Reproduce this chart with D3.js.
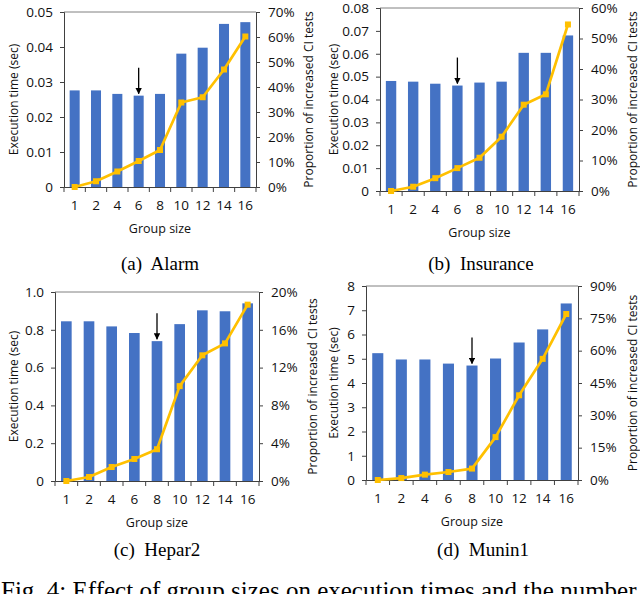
<!DOCTYPE html>
<html>
<head>
<meta charset="utf-8">
<script src="https://cdn.jsdelivr.net/npm/d3@7"></script>
<style>
  body { margin: 0; background: #fff; }
  svg text { white-space: pre; }
</style>
</head>
<body>
<svg id="chart" width="640" height="594"></svg>
<script>
// group sizes on the x axis (same for all four panels)
const groups = ['1', '2', '4', '6', '8', '10', '12', '14', '16'];

// (a) Alarm
const alarmTime = [0.0276, 0.0276, 0.0266, 0.0261, 0.0266, 0.0381, 0.0398, 0.0466, 0.0471];
const alarmPct = [0, 0.023, 0.062, 0.104, 0.148, 0.338, 0.359, 0.47, 0.602];
const alarmTimeTicks = [0, 0.01, 0.02, 0.03, 0.04, 0.05];
const alarmPctTicks = [0, 0.1, 0.2, 0.3, 0.4, 0.5, 0.6, 0.7];

// (b) Insurance
const insuranceTime = [0.0481, 0.0478, 0.0469, 0.0461, 0.0474, 0.0478, 0.0604, 0.0604, 0.068];
const insurancePct = [0, 0.014, 0.042, 0.075, 0.109, 0.178, 0.283, 0.317, 0.546];
const insuranceTimeTicks = [0, 0.01, 0.02, 0.03, 0.04, 0.05, 0.06, 0.07, 0.08];
const insurancePctTicks = [0, 0.1, 0.2, 0.3, 0.4, 0.5, 0.6];

// (c) Hepar2
const heparTime = [0.845, 0.845, 0.818, 0.783, 0.740, 0.830, 0.903, 0.898, 0.940];
const heparPct = [0, 0.0042, 0.0148, 0.0233, 0.0336, 0.1004, 0.133, 0.1456, 0.1866];
const heparTimeTicks = [0, 0.2, 0.4, 0.6, 0.8, 1];
const heparPctTicks = [0, 0.04, 0.08, 0.12, 0.16, 0.2];

// (d) Munin1
const muninTime = [5.23, 4.97, 4.97, 4.80, 4.72, 5.01, 5.67, 6.21, 7.28];
const muninPct = [0, 0.009, 0.025, 0.037, 0.053, 0.199, 0.393, 0.562, 0.77];
const muninTimeTicks = [0, 1, 2, 3, 4, 5, 6, 7, 8];
const muninPctTicks = [0, 0.15, 0.3, 0.45, 0.6, 0.75, 0.9];

const captions = ['(a)  Alarm', '(b)  Insurance', '(c)  Hepar2', '(d)  Munin1'];
const marked = ['6', '6', '8', '8']; // group pointed at by the arrow
const figCaption = 'Fig. 4: Effect of group sizes on execution times and the number of CI tests.';

const panels = [
    { time: alarmTime, pct: alarmPct, tTicks: alarmTimeTicks, pTicks: alarmPctTicks, fmt: d3.format('.2f'),
      left: 64, right: 256, top: 12, bottom: 187, ltx: 13, rtx: 308, capX: 160, capY: 270 },
    { time: insuranceTime, pct: insurancePct, tTicks: insuranceTimeTicks, pTicks: insurancePctTicks, fmt: d3.format('.2f'),
      left: 380, right: 579, top: 8, bottom: 191, ltx: 333, rtx: 632, capX: 481, capY: 270 },
    { time: heparTime, pct: heparPct, tTicks: heparTimeTicks, pTicks: heparPctTicks, fmt: d3.format('.1f'),
      left: 55, right: 259, top: 292, bottom: 481, ltx: 13, rtx: 312, capX: 157, capY: 556 },
    { time: muninTime, pct: muninPct, tTicks: muninTimeTicks, pTicks: muninPctTicks, fmt: d3.format('d'),
      left: 366, right: 578, top: 286, bottom: 480, ltx: 333, rtx: 632, capX: 483, capY: 556 }
];

const svg = d3.select('#chart');
const axisColor = '#404040';
const barColor = '#4472C4';
const lineColor = '#FFC000';
const tickFont = "'Open Sans', sans-serif";

svg.append('defs').append('marker')
    .attr('id', 'arrowhead')
    .attr('viewBox', '0 0 10 10')
    .attr('refX', 9).attr('refY', 5)
    .attr('markerWidth', 5).attr('markerHeight', 5)
    .attr('orient', 'auto')
    .append('path')
    .attr('d', 'M0,0 L10,5 L0,10 Z')
    .attr('fill', '#000');

panels.forEach((p, idx) => {
    let g = svg.append('g');

    let xScale = d3.scaleBand()
        .domain(groups)
        .range([p.left, p.right])
        .paddingInner(0.53)
        .paddingOuter(0.265);

    let yTime = d3.scaleLinear()
        .domain([0, d3.max(p.tTicks)])
        .range([p.bottom, p.top]);

    let yPct = d3.scaleLinear()
        .domain([0, d3.max(p.pTicks)])
        .range([p.bottom, p.top]);

    // bars
    g.selectAll('rect.bar')
        .data(p.time)
        .enter().append('rect')
        .attr('class', 'bar')
        .attr('x', (d, i) => xScale(groups[i]))
        .attr('y', d => yTime(d))
        .attr('width', xScale.bandwidth())
        .attr('height', d => yTime(0) - yTime(d))
        .attr('fill', barColor);

    // top border of the plot area
    g.append('line')
        .attr('x1', p.left).attr('x2', p.right)
        .attr('y1', p.top).attr('y2', p.top)
        .attr('stroke', '#808080').attr('stroke-width', 1);

    // left axis
    let leftAxis = d3.axisLeft(yTime)
        .tickValues(p.tTicks)
        .tickFormat(d => d === 0 ? '0' : p.fmt(d))
        .tickSize(4).tickPadding(7);
    g.append('g')
        .attr('transform', `translate(${p.left}, 0)`)
        .call(leftAxis);

    // right axis
    let rightAxis = d3.axisRight(yPct)
        .tickValues(p.pTicks)
        .tickFormat(d3.format('.0%'))
        .tickSize(4).tickPadding(8);
    g.append('g')
        .attr('transform', `translate(${p.right}, 0)`)
        .call(rightAxis);

    // bottom axis, ticks between categories like Excel
    let bottomAxis = d3.axisBottom(xScale).tickSize(0).tickPadding(13);
    let bx = g.append('g')
        .attr('transform', `translate(0, ${p.bottom})`)
        .call(bottomAxis);
    let step = xScale.step();
    let start = xScale(groups[0]) - step * xScale.paddingOuter();
    bx.selectAll('line.sep')
        .data(d3.range(groups.length + 1))
        .enter().append('line')
        .attr('class', 'sep')
        .attr('x1', i => start + i * step).attr('x2', i => start + i * step)
        .attr('y1', 0).attr('y2', 5)
        .attr('stroke', axisColor);

    g.selectAll('.domain').attr('stroke', axisColor);
    g.selectAll('.tick line').attr('stroke', axisColor);
    g.selectAll('.tick text')
        .attr('fill', '#111')
        .style('font-family', tickFont)
        .style('font-size', '13.5px');

    // proportion line
    let lineGen = d3.line()
        .x((d, i) => xScale(groups[i]) + xScale.bandwidth() / 2)
        .y(d => yPct(d));
    g.append('path')
        .attr('d', lineGen(p.pct))
        .attr('fill', 'none')
        .attr('stroke', lineColor)
        .attr('stroke-width', 2.7)
        .attr('stroke-linejoin', 'round');
    g.selectAll('rect.mark')
        .data(p.pct)
        .enter().append('rect')
        .attr('class', 'mark')
        .attr('x', (d, i) => xScale(groups[i]) + xScale.bandwidth() / 2 - 3)
        .attr('y', d => yPct(d) - 3)
        .attr('width', 6).attr('height', 6)
        .attr('fill', lineColor);

    // arrow pointing at the chosen group size
    let ai = groups.indexOf(marked[idx]);
    let ax = xScale(groups[ai]) + xScale.bandwidth() / 2;
    let ay = yTime(p.time[ai]);
    g.append('line')
        .attr('x1', ax).attr('x2', ax)
        .attr('y1', ay - 28).attr('y2', ay - 2)
        .attr('stroke', '#000')
        .attr('stroke-width', 1.3)
        .attr('marker-end', 'url(#arrowhead)');

    // axis titles
    let midY = (p.top + p.bottom) / 2;
    g.append('text')
        .attr('transform', `translate(${p.ltx}, ${midY}) rotate(-90)`)
        .attr('text-anchor', 'middle')
        .attr('dominant-baseline', 'central')
        .style('font-family', tickFont).style('font-size', '12px')
        .attr('fill', '#111')
        .text('Execution time (sec)');
    g.append('text')
        .attr('transform', `translate(${p.rtx}, ${midY}) rotate(-90)`)
        .attr('text-anchor', 'middle')
        .attr('dominant-baseline', 'central')
        .style('font-family', tickFont).style('font-size', '12px')
        .attr('fill', '#111')
        .text('Proportion of increased CI tests');
    g.append('text')
        .attr('x', (p.left + p.right) / 2)
        .attr('y', p.bottom + 46)
        .attr('text-anchor', 'middle')
        .style('font-family', tickFont).style('font-size', '12.5px')
        .attr('fill', '#111')
        .text('Group size');

    // sub-caption
    svg.append('text')
        .attr('x', p.capX).attr('y', p.capY)
        .attr('text-anchor', 'middle')
        .style('font-family', "'Liberation Serif', serif").style('font-size', '19px')
        .attr('fill', '#000')
        .text(captions[idx]);
});

// figure caption, cut by the bottom edge as in the reference
svg.append('text')
    .attr('x', 1).attr('y', 599)
    .style('font-family', "'Liberation Serif', serif").style('font-size', '25px')
    .attr('fill', '#000')
    .text(figCaption);
</script>
</body>
</html>
